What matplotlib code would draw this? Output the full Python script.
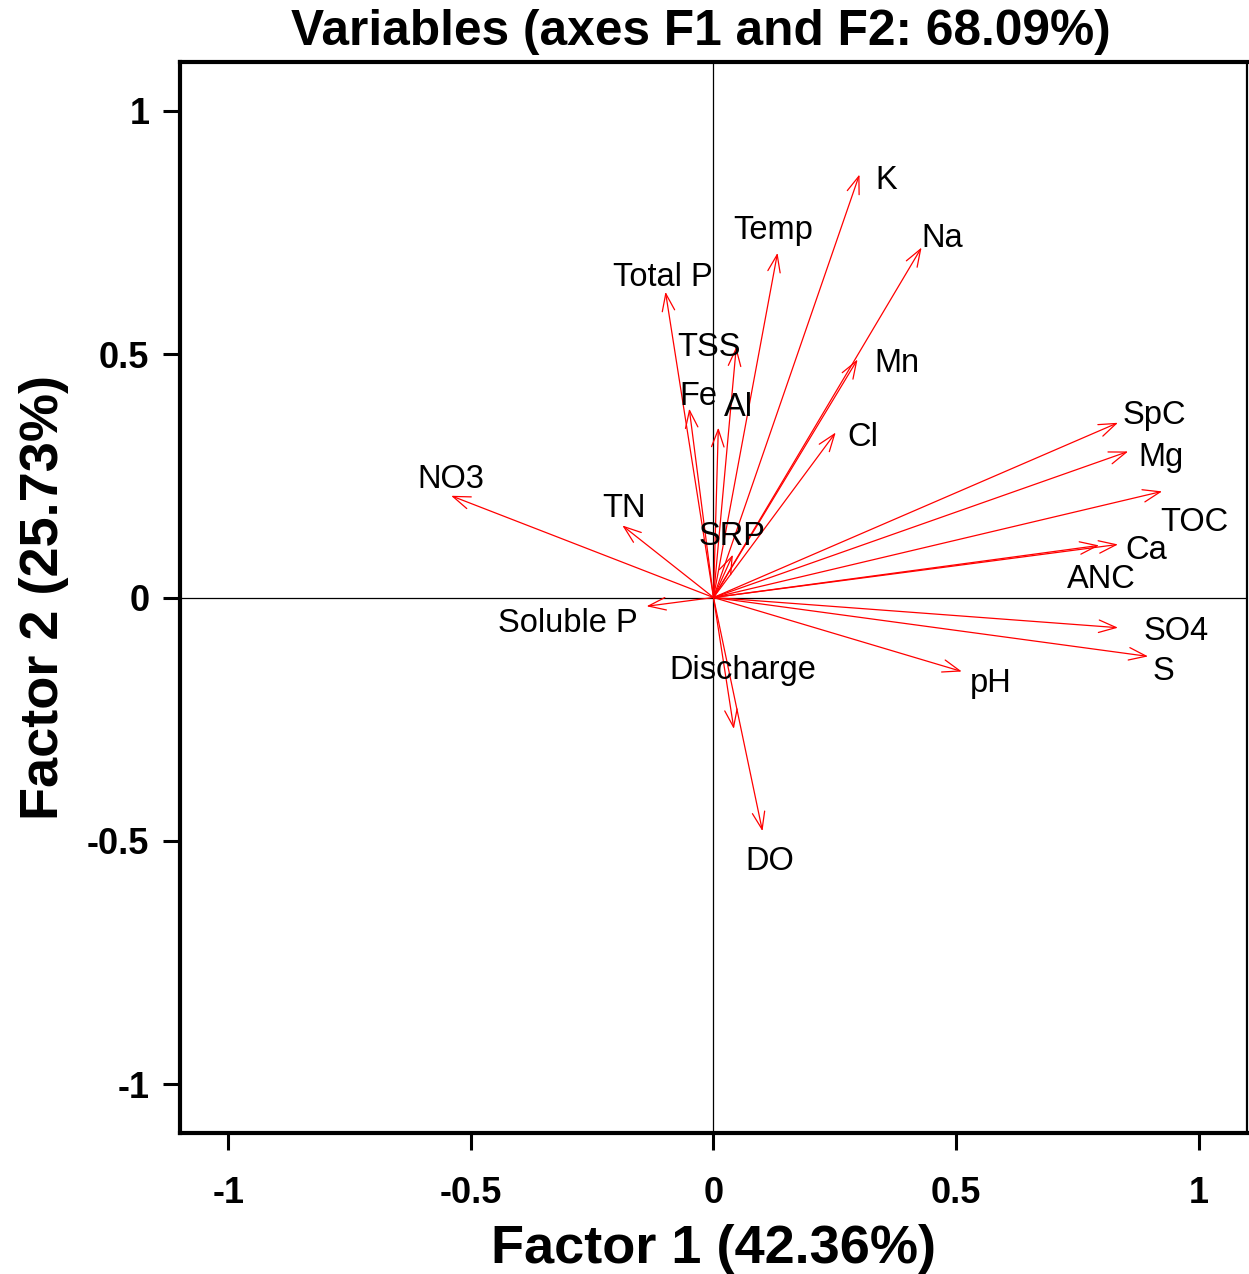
import matplotlib
matplotlib.use("Agg")
import matplotlib.pyplot as plt
from matplotlib.transforms import offset_copy

plt.rcParams['font.family'] = ['Liberation Sans', 'DejaVu Sans']

variables = ["K", "Na", "Temp", "Mn", "Cl", "Total P", "TSS", "Fe", "Al", "SRP",
             "SpC", "Mg", "TOC", "Ca", "ANC", "SO4", "S", "pH", "DO", "Discharge",
             "Soluble P", "TN", "NO3"]
f1 = [0.301, 0.429, 0.132, 0.297, 0.252, -0.099, 0.047, -0.050, 0.010, 0.040,
      0.834, 0.855, 0.925, 0.834, 0.795, 0.834, 0.896, 0.512, 0.101, 0.042,
      -0.138, -0.188, -0.541]
f2 = [0.869, 0.719, 0.708, 0.489, 0.339, 0.628, 0.515, 0.388, 0.349, 0.088,
      0.359, 0.300, 0.218, 0.109, 0.107, -0.062, -0.121, -0.152, -0.480, -0.270,
      -0.018, 0.148, 0.209]
label_x = [0.357, 0.471, 0.124, 0.378, 0.308, -0.105, -0.010, -0.031, 0.052, 0.039,
           0.908, 0.923, 0.991, 0.892, 0.799, 0.954, 0.927, 0.572, 0.116, 0.060,
           -0.301, -0.184, -0.541]
label_y = [0.862, 0.743, 0.760, 0.487, 0.335, 0.663, 0.520, 0.419, 0.396, 0.131,
           0.380, 0.294, 0.160, 0.103, 0.043, -0.064, -0.146, -0.170, -0.536, -0.144,
           -0.047, 0.189, 0.248]

ticks = [-1, -0.5, 0, 0.5, 1]
tick_labels = ["-1", "-0.5", "0", "0.5", "1"]

fig = plt.figure(figsize=(12.49, 12.74), dpi=100)
ax = fig.add_axes([0.1441, 0.1107, 0.8543, 0.8406])
ax.set_xlim(-1.1, 1.1)
ax.set_ylim(-1.1, 1.1)

ax.axhline(0, color='black', lw=0.9, zorder=1)
ax.axvline(0, color='black', lw=0.9, zorder=1)

for x, y in zip(f1, f2):
    ax.annotate('', xy=(x, y), xytext=(0, 0),
                arrowprops=dict(arrowstyle='->,head_length=1.25,head_width=0.45',
                                color='red', lw=0.9, shrinkA=0, shrinkB=0),
                zorder=2)

label_trans = offset_copy(ax.transData, fig=fig, x=0, y=-3, units='dots')
for name, lx, ly in zip(variables, label_x, label_y):
    ax.text(lx, ly, name, ha='center', va='center', fontsize=23.5, color='black',
            zorder=3, transform=label_trans)

ax.set_xticks(ticks)
ax.set_xticklabels(tick_labels, fontsize=26, fontweight='bold')
ax.set_yticks(ticks)
ax.set_yticklabels(tick_labels, fontsize=26, fontweight='bold')
ax.tick_params(axis='x', length=12, width=2.2, pad=19)
ax.tick_params(axis='y', length=12, width=2.2, pad=10)

for side in ['left', 'top', 'bottom']:
    ax.spines[side].set_linewidth(3)
ax.spines['right'].set_linewidth(1.6)

ax.set_xlabel("Factor 1 (42.36%)", fontsize=39, fontweight='bold', labelpad=9)
ax.set_ylabel("Factor 2 (25.73%)", fontsize=39, fontweight='bold', labelpad=13)
ax.set_title("Variables (axes F1 and F2: 68.09%)", fontsize=35.7, fontweight='bold',
             pad=12, x=0.488)

fig.savefig("out.png", dpi=100)
